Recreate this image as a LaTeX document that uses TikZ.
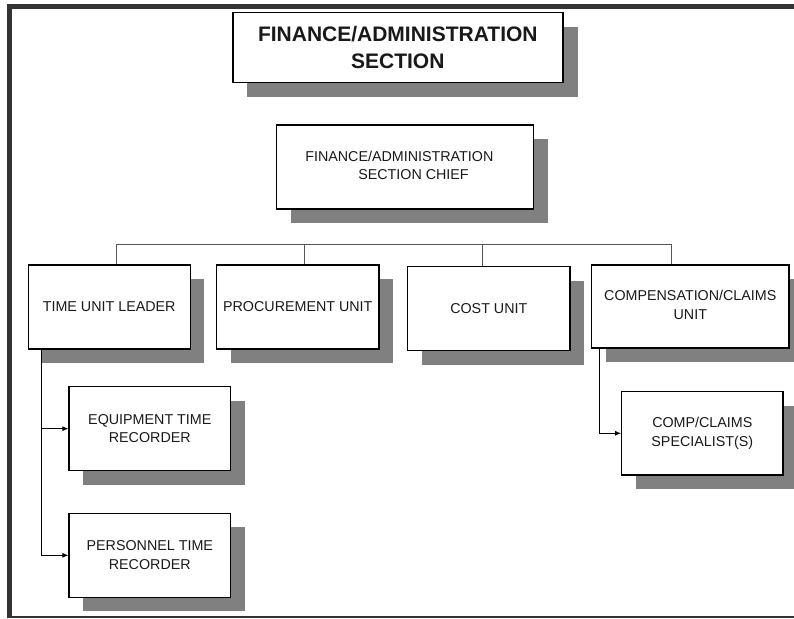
\documentclass[tikz,border=0pt]{standalone}
\usepackage{fontspec}
\setmainfont{Liberation Sans}
\usetikzlibrary{shadows,arrows.meta,calc}
\definecolor{shadowgray}{HTML}{808080}
\definecolor{framegray}{HTML}{333333}
\definecolor{busgray}{HTML}{555555}
\newcommand{\boxfont}{\fontsize{14.3}{18.5}\selectfont}
\newcommand{\titlefont}{\fontsize{21}{27}\selectfont\bfseries}
\tikzset{
  ubox/.style={draw=black, line width=1.1pt, fill=white, inner sep=0pt,
    align=center, font=\boxfont, text=black!90,
    drop shadow={shadow xshift=14pt, shadow yshift=-14pt, fill=shadowgray, opacity=1}},
  bus/.style={draw=busgray, line width=1pt},
  arr/.style={draw=black, line width=0.9pt, -{Latex[length=6pt,width=5pt]}},
}
\begin{document}
\begin{tikzpicture}[x=1pt,y=-1pt]
\useasboundingbox (0,0) rectangle (794,618);
\clip (0,0) rectangle (794,618);
% frame
\fill[framegray] (7,4) rectangle (12,617);
\fill[framegray] (7,4) rectangle (794,9);
\draw[framegray, line width=1.5pt] (7,617) -- (794,617);
% boxes
\node[ubox, font=\titlefont, line width=1.4pt, minimum width=330pt, minimum height=70pt,
  drop shadow={shadow xshift=15.5pt, shadow yshift=-14pt, fill=shadowgray, opacity=1}]
  (title) at (397.8,47.7) {FINANCE/ADMINISTRATION\\SECTION};
\node[ubox, minimum width=257pt, minimum height=84pt] (chief) at (405.3,167)
  {\raisebox{-5pt}{\begin{tabular}{@{}l@{}}FINANCE/ADMINISTRATION\hspace*{12pt}\\\hspace*{53pt}SECTION CHIEF\end{tabular}}};
\node[ubox, minimum width=161.7pt, minimum height=84pt] (time) at (109.2,307) {TIME UNIT LEADER};
\node[ubox, minimum width=162.3pt, minimum height=84pt] (proc) at (297.8,307) {PROCUREMENT UNIT};
\node[ubox, minimum width=162.3pt, minimum height=84pt] (cost) at (488.8,308.7) {COST UNIT};
\node[ubox, minimum width=197.3pt, minimum height=83pt] (comp) at (690.3,306.5)
  {\raisebox{-3pt}{\begin{tabular}{@{}c@{}}COMPENSATION/CLAIMS\\UNIT\end{tabular}}};
\node[ubox, minimum width=161.3pt, minimum height=83.3pt] (spec) at (702.3,433.3) {COMP/CLAIMS\\SPECIALIST(S)};
\node[ubox, minimum width=161.7pt, minimum height=84pt] (equip) at (149.8,428.7) {EQUIPMENT TIME\\RECORDER};
\node[ubox, minimum width=161.7pt, minimum height=84pt] (pers) at (149.8,555.3) {PERSONNEL TIME\\RECORDER};
% bus
\coordinate (b1) at (116,244);
\coordinate (b2) at (304.3,244);
\coordinate (b3) at (482,244);
\coordinate (b4) at (671,244);
\draw[bus] (b1) -- (b4);
\draw[bus] (b1) -- (b1 |- time.north);
\draw[bus] (b2) -- (b2 |- proc.north);
\draw[bus] (b3) -- (b3 |- cost.north);
\draw[bus] (b4) -- (b4 |- comp.north);
% subordinates
\coordinate (tl) at (41.7,349);
\draw[arr] (tl) |- (equip.west);
\draw[arr] (tl) |- (pers.west);
\coordinate (cl) at (599.3,348);
\draw[arr] (cl) |- (spec.west);
\end{tikzpicture}
\end{document}
